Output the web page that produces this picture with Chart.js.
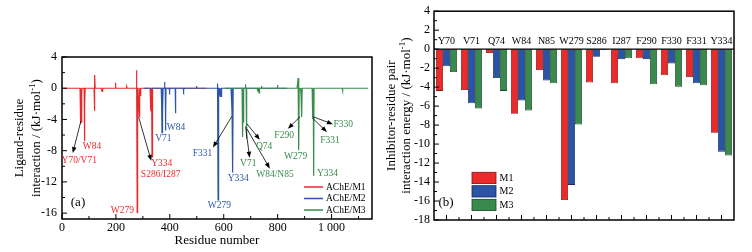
<!DOCTYPE html>
<html lang="en">
<head>
<meta charset="UTF-8">
<title>AChE ligand-residue interaction</title>
<script src="https://cdn.jsdelivr.net/npm/chart.js"></script>
<style>
  html, body { margin: 0; padding: 0; background: #fff; }
  #wrap { position: relative; width: 752px; height: 252px; }
  canvas { position: absolute; top: 0; }
  #lineChart { left: 0; }
  #barChart { left: 376px; }
</style>
</head>
<body>
<div id="wrap">
  <canvas id="lineChart" width="376" height="252"></canvas>
  <canvas id="barChart" width="376" height="252"></canvas>
</div>
<script>
  // ---- data ----
  const categories = ['Y70', 'V71', 'Q74', 'W84', 'N85', 'W279', 'S286', 'I287', 'F290', 'F330', 'F331', 'Y334'];
  const keyResidues = [70, 71, 74, 84, 85, 279, 286, 287, 290, 330, 331, 334];
  const m1Energy = [-4.4, -4.3, -0.4, -6.8, -2.2, -15.9, -3.5, -3.6, -0.95, -2.75, -2.95, -8.8];
  const m2Energy = [-1.8, -5.7, -3.05, -5.4, -3.3, -14.3, -0.8, -1.05, -1.05, -1.5, -3.6, -10.8];
  const m3Energy = [-2.4, -6.25, -4.4, -6.45, -3.6, -7.95, -0.1, -0.95, -3.7, -3.95, -3.8, -11.2];

  // other residues with a visible contribution in panel (a)
  const m1OtherRes = [121, 122, 149, 199, 241, 277];
  const m1OtherVal = [-2.9, 1.7, -0.4, 0.7, 0.2, 2.3];
  const m2OtherRes = [81, 100, 121, 152, 199, 276];
  const m2OtherVal = [0.8, -0.3, -3.2, -0.3, 0.3, 0.6];
  const m3OtherRes = [81, 125, 131, 140, 200, 276, 441];
  const m3OtherVal = [0.5, -0.4, -0.6, 0.3, 0.4, 1.3, -0.3];

  const seriesNames = ['AChE/M1', 'AChE/M2', 'AChE/M3'];
  const barNames = ['M1', 'M2', 'M3'];
  const residueOffsets = [0, 300, 600];
  const firstResidue = 4, lastResidue = 537;

  const residueTicks = [0, 200, 400, 600, 800, 1000];
  const residueTickLabels = ['0', '200', '400', '600', '800', '1 000'];
  const energyTicksA = [4, 0, -4, -8, -12, -16];
  const energyTicksB = [4, 2, 0, -2, -4, -6, -8, -10, -12, -14, -16, -18];

  // ---- styles ----
  const SERIF = '"Liberation Serif", "Times New Roman", serif';
  const lineColors = ['#e92a2c', '#2d56a8', '#3a8c4c'];
  const fillColors = ['#ec2a2a', '#2a54a5', '#398a4d'];
  const edgeColors = ['#7c1414', '#142a5c', '#1b4426'];

  // annotations in panel (a): [residue, energy]
  const labelsA = [
    { t: 'W84', c: 0, x: 111, y: -7.5 },
    { t: 'Y70/V71', c: 0, x: 64, y: -9.3 },
    { t: 'W279', c: 0, x: 224, y: -15.6 },
    { t: 'Y334', c: 0, x: 370, y: -9.6 },
    { t: 'S286/I287', c: 0, x: 366, y: -11.1 },
    { t: 'W84', c: 1, x: 423, y: -5.0 },
    { t: 'V71', c: 1, x: 376, y: -6.4 },
    { t: 'F331', c: 1, x: 521, y: -8.4 },
    { t: 'Y334', c: 1, x: 654, y: -11.5 },
    { t: 'W279', c: 1, x: 584, y: -15.0 },
    { t: 'Q74', c: 2, x: 750, y: -7.5 },
    { t: 'V71', c: 2, x: 691, y: -9.7 },
    { t: 'W84/N85', c: 2, x: 790, y: -11.1 },
    { t: 'F290', c: 2, x: 824, y: -6.1 },
    { t: 'W279', c: 2, x: 867, y: -8.8 },
    { t: 'Y334', c: 2, x: 985, y: -10.95 },
    { t: 'F331', c: 2, x: 994, y: -6.7 },
    { t: 'F330', c: 2, x: 1043, y: -4.6 }
  ];
  const arrowsA = [
    [70, -4.2, 40, -8.3],
    [284, -3.65, 331, -9.3],
    [630, -3.6, 560, -7.6],
    [686, -4.55, 734, -6.6],
    [681, -4.9, 696, -8.9],
    [686, -5.2, 771, -10.3],
    [883, -3.65, 838, -5.2],
    [931, -3.9, 983, -5.6],
    [931, -3.65, 1005, -4.6]
  ];

  function buildSeries(keyVals, otherRes, otherVals, offset) {
    const map = new Map();
    keyResidues.forEach((r, i) => map.set(r, keyVals[i]));
    otherRes.forEach((r, i) => map.set(r, otherVals[i]));
    const pts = [];
    for (let r = firstResidue; r <= lastResidue; r++) {
      pts.push({ x: r + offset, y: map.has(r) ? map.get(r) : 0 });
    }
    return pts;
  }

  function drawRich(ctx, parts, cx, cy, size) {
    const fonts = parts.map(p => (p.sup ? size * 0.68 : size) + 'px ' + SERIF);
    let w = 0;
    parts.forEach((p, i) => { ctx.font = fonts[i]; w += ctx.measureText(p.t).width; });
    let x = cx - w / 2;
    ctx.textAlign = 'left';
    ctx.textBaseline = 'middle';
    parts.forEach((p, i) => {
      ctx.font = fonts[i];
      ctx.fillText(p.t, x, cy - (p.sup ? size * 0.33 : 0));
      x += ctx.measureText(p.t).width;
    });
  }

  function drawVertTitle(ctx, parts, x, cy, size) {
    ctx.save();
    ctx.translate(x, cy);
    ctx.rotate(-Math.PI / 2);
    drawRich(ctx, parts, 0, 0, size);
    ctx.restore();
  }

  function arrow(ctx, x1, y1, x2, y2) {
    const ang = Math.atan2(y2 - y1, x2 - x1);
    const hl = 6, hw = 2.3;
    ctx.beginPath();
    ctx.moveTo(x1, y1);
    ctx.lineTo(x2 - Math.cos(ang) * hl * 0.8, y2 - Math.sin(ang) * hl * 0.8);
    ctx.stroke();
    ctx.beginPath();
    ctx.moveTo(x2, y2);
    ctx.lineTo(x2 - Math.cos(ang) * hl - Math.sin(ang) * hw, y2 - Math.sin(ang) * hl + Math.cos(ang) * hw);
    ctx.lineTo(x2 - Math.cos(ang) * hl + Math.sin(ang) * hw, y2 - Math.sin(ang) * hl - Math.cos(ang) * hw);
    ctx.closePath();
    ctx.fill();
  }

  const unitParts = [{ t: 'interaction / (kJ·mol' }, { t: '-1', sup: true }, { t: ')' }];

  // ---- panel (a) ----
  const panelA = {
    id: 'panelA',
    afterDraw(chart) {
      const { ctx, chartArea: a, scales: { x, y } } = chart;
      ctx.save();
      ctx.strokeStyle = '#000';
      ctx.fillStyle = '#000';
      ctx.lineWidth = 1;
      ctx.beginPath();
      for (let v = 0; v <= 1100; v += 100) {
        const px = x.getPixelForValue(v);
        ctx.moveTo(px, a.bottom);
        ctx.lineTo(px, a.bottom - (v % 200 === 0 ? 5 : 3));
      }
      for (let v = 4; v >= -16; v -= 2) {
        const py = y.getPixelForValue(v);
        ctx.moveTo(a.left, py);
        ctx.lineTo(a.left + (v % 4 === 0 ? 5 : 3), py);
      }
      ctx.stroke();
      ctx.lineWidth = 1.5;
      ctx.strokeRect(a.left, a.top, a.right - a.left, a.bottom - a.top);

      // arrows
      ctx.lineWidth = 0.8;
      arrowsA.forEach(([r1, v1, r2, v2]) => {
        arrow(ctx, x.getPixelForValue(r1), y.getPixelForValue(v1), x.getPixelForValue(r2), y.getPixelForValue(v2));
      });

      // residue labels
      ctx.font = '9.5px ' + SERIF;
      ctx.textAlign = 'center';
      ctx.textBaseline = 'middle';
      labelsA.forEach(l => {
        ctx.fillStyle = lineColors[l.c];
        ctx.fillText(l.t, x.getPixelForValue(l.x), y.getPixelForValue(l.y));
      });

      // legend
      ctx.lineWidth = 1.5;
      ctx.font = '9.5px ' + SERIF;
      ctx.textAlign = 'left';
      [32, 20.5, 9].forEach((dy, i) => {
        const py = a.bottom - dy;
        ctx.strokeStyle = lineColors[i];
        ctx.beginPath();
        ctx.moveTo(a.right - 68, py);
        ctx.lineTo(a.right - 49, py);
        ctx.stroke();
        ctx.fillStyle = '#000';
        ctx.fillText(seriesNames[i], a.right - 46, py);
      });

      ctx.fillStyle = '#000';
      ctx.font = '13px ' + SERIF;
      ctx.textAlign = 'center';
      ctx.fillText('(a)', a.left + 16, a.bottom - 16);
      ctx.fillText('Residue number', (a.left + a.right) / 2, 241);
      drawVertTitle(ctx, [{ t: 'Ligand-residue' }], 20, (a.top + a.bottom) / 2, 13);
      drawVertTitle(ctx, unitParts, 36.5, (a.top + a.bottom) / 2, 13);
      ctx.restore();
    }
  };

  const m1Points = buildSeries(m1Energy, m1OtherRes, m1OtherVal, residueOffsets[0]);
  const m2Points = buildSeries(m2Energy, m2OtherRes, m2OtherVal, residueOffsets[1]);
  const m3Points = buildSeries(m3Energy, m3OtherRes, m3OtherVal, residueOffsets[2]);

  new Chart(document.getElementById('lineChart'), {
    type: 'line',
    data: {
      datasets: [m1Points, m2Points, m3Points].map((pts, i) => ({
        label: seriesNames[i],
        data: pts,
        borderColor: lineColors[i],
        borderWidth: 1.2,
        pointRadius: 0,
        tension: 0,
        order: 3 - i
      }))
    },
    options: {
      responsive: false,
      animation: false,
      layout: { padding: { top: 57, right: 4, left: 0, bottom: 0 } },
      plugins: { legend: { display: false }, tooltip: { enabled: false } },
      scales: {
        x: {
          type: 'linear', min: 0, max: 1150,
          afterFit: s => { s.height = 33; },
          afterBuildTicks: s => { s.ticks = residueTicks.map(v => ({ value: v })); },
          ticks: {
            font: { family: SERIF, size: 12 }, color: '#000', padding: 2,
            maxRotation: 0, autoSkip: false,
            callback: (v, i) => residueTickLabels[i]
          },
          grid: { display: false, drawTicks: false },
          border: { display: false }
        },
        y: {
          type: 'linear', min: -16.75, max: 4,
          afterFit: s => { s.width = 62; },
          afterBuildTicks: s => { s.ticks = energyTicksA.map(v => ({ value: v })); },
          ticks: { font: { family: SERIF, size: 12 }, color: '#000', padding: 5 },
          grid: { display: false, drawTicks: false },
          border: { display: false }
        }
      }
    },
    plugins: [panelA]
  });

  // ---- panel (b) ----
  const panelB = {
    id: 'panelB',
    afterDraw(chart) {
      const { ctx, chartArea: a, scales: { x, y } } = chart;
      ctx.save();
      ctx.strokeStyle = '#000';
      ctx.fillStyle = '#000';
      ctx.lineWidth = 1;
      ctx.beginPath();
      categories.forEach((c, i) => {
        const px = x.getPixelForValue(i);
        ctx.moveTo(px, a.bottom);
        ctx.lineTo(px, a.bottom - 5);
        if (i < categories.length - 1) {
          const pm = (px + x.getPixelForValue(i + 1)) / 2;
          ctx.moveTo(pm, a.bottom);
          ctx.lineTo(pm, a.bottom - 3);
        }
      });
      for (let v = 4; v >= -18; v -= 1) {
        const py = y.getPixelForValue(v);
        ctx.moveTo(a.left, py);
        ctx.lineTo(a.left + (v % 2 === 0 ? 5 : 3), py);
      }
      ctx.stroke();
      const y0 = y.getPixelForValue(0);
      ctx.lineWidth = 1.2;
      ctx.beginPath();
      ctx.moveTo(a.left, y0);
      ctx.lineTo(a.right, y0);
      ctx.stroke();
      ctx.lineWidth = 1.5;
      ctx.strokeRect(a.left, a.top, a.right - a.left, a.bottom - a.top);

      ctx.font = '10px ' + SERIF;
      ctx.textAlign = 'center';
      ctx.textBaseline = 'middle';
      categories.forEach((c, i) => ctx.fillText(c, x.getPixelForValue(i), y0 - 7.5));

      // legend
      [172.3, 185.7, 199.3].forEach((top, i) => {
        ctx.fillStyle = fillColors[i];
        ctx.fillRect(a.left + 38, top, 24, 11.3);
        ctx.strokeStyle = edgeColors[i];
        ctx.lineWidth = 0.8;
        ctx.strokeRect(a.left + 38, top, 24, 11.3);
        ctx.fillStyle = '#000';
        ctx.font = '10px ' + SERIF;
        ctx.textAlign = 'left';
        ctx.fillText(barNames[i], a.left + 65.5, top + 6);
      });

      ctx.fillStyle = '#000';
      ctx.font = '13px ' + SERIF;
      ctx.textAlign = 'center';
      ctx.fillText('(b)', a.left + 12, 203);
      drawVertTitle(ctx, [{ t: 'Inhibitor-residue pair' }], 15.7, (a.top + a.bottom) / 2, 13);
      drawVertTitle(ctx, [{ t: 'interaction energy / (kJ·mol' }, { t: '-1', sup: true }, { t: ')' }], 30.7, (a.top + a.bottom) / 2, 13);
      ctx.restore();
    }
  };

  new Chart(document.getElementById('barChart'), {
    type: 'bar',
    data: {
      labels: categories,
      datasets: [m1Energy, m2Energy, m3Energy].map((vals, i) => ({
        label: barNames[i],
        data: vals,
        backgroundColor: fillColors[i],
        borderColor: edgeColors[i],
        borderWidth: 0.8,
        borderSkipped: false,
        categoryPercentage: 0.84,
        barPercentage: 1
      }))
    },
    options: {
      responsive: false,
      animation: false,
      layout: { padding: { top: 11, right: 18, left: 0, bottom: 0 } },
      plugins: { legend: { display: false }, tooltip: { enabled: false } },
      scales: {
        x: {
          type: 'category', offset: true,
          afterFit: s => { s.height = 32; },
          ticks: { display: false },
          grid: { display: false, drawTicks: false },
          border: { display: false }
        },
        y: {
          type: 'linear', min: -18, max: 4,
          afterFit: s => { s.width = 58; },
          afterBuildTicks: s => { s.ticks = energyTicksB.map(v => ({ value: v })); },
          ticks: { font: { family: SERIF, size: 12 }, color: '#000', padding: 4 },
          grid: { display: false, drawTicks: false },
          border: { display: false }
        }
      }
    },
    plugins: [panelB]
  });
</script>
</body>
</html>
